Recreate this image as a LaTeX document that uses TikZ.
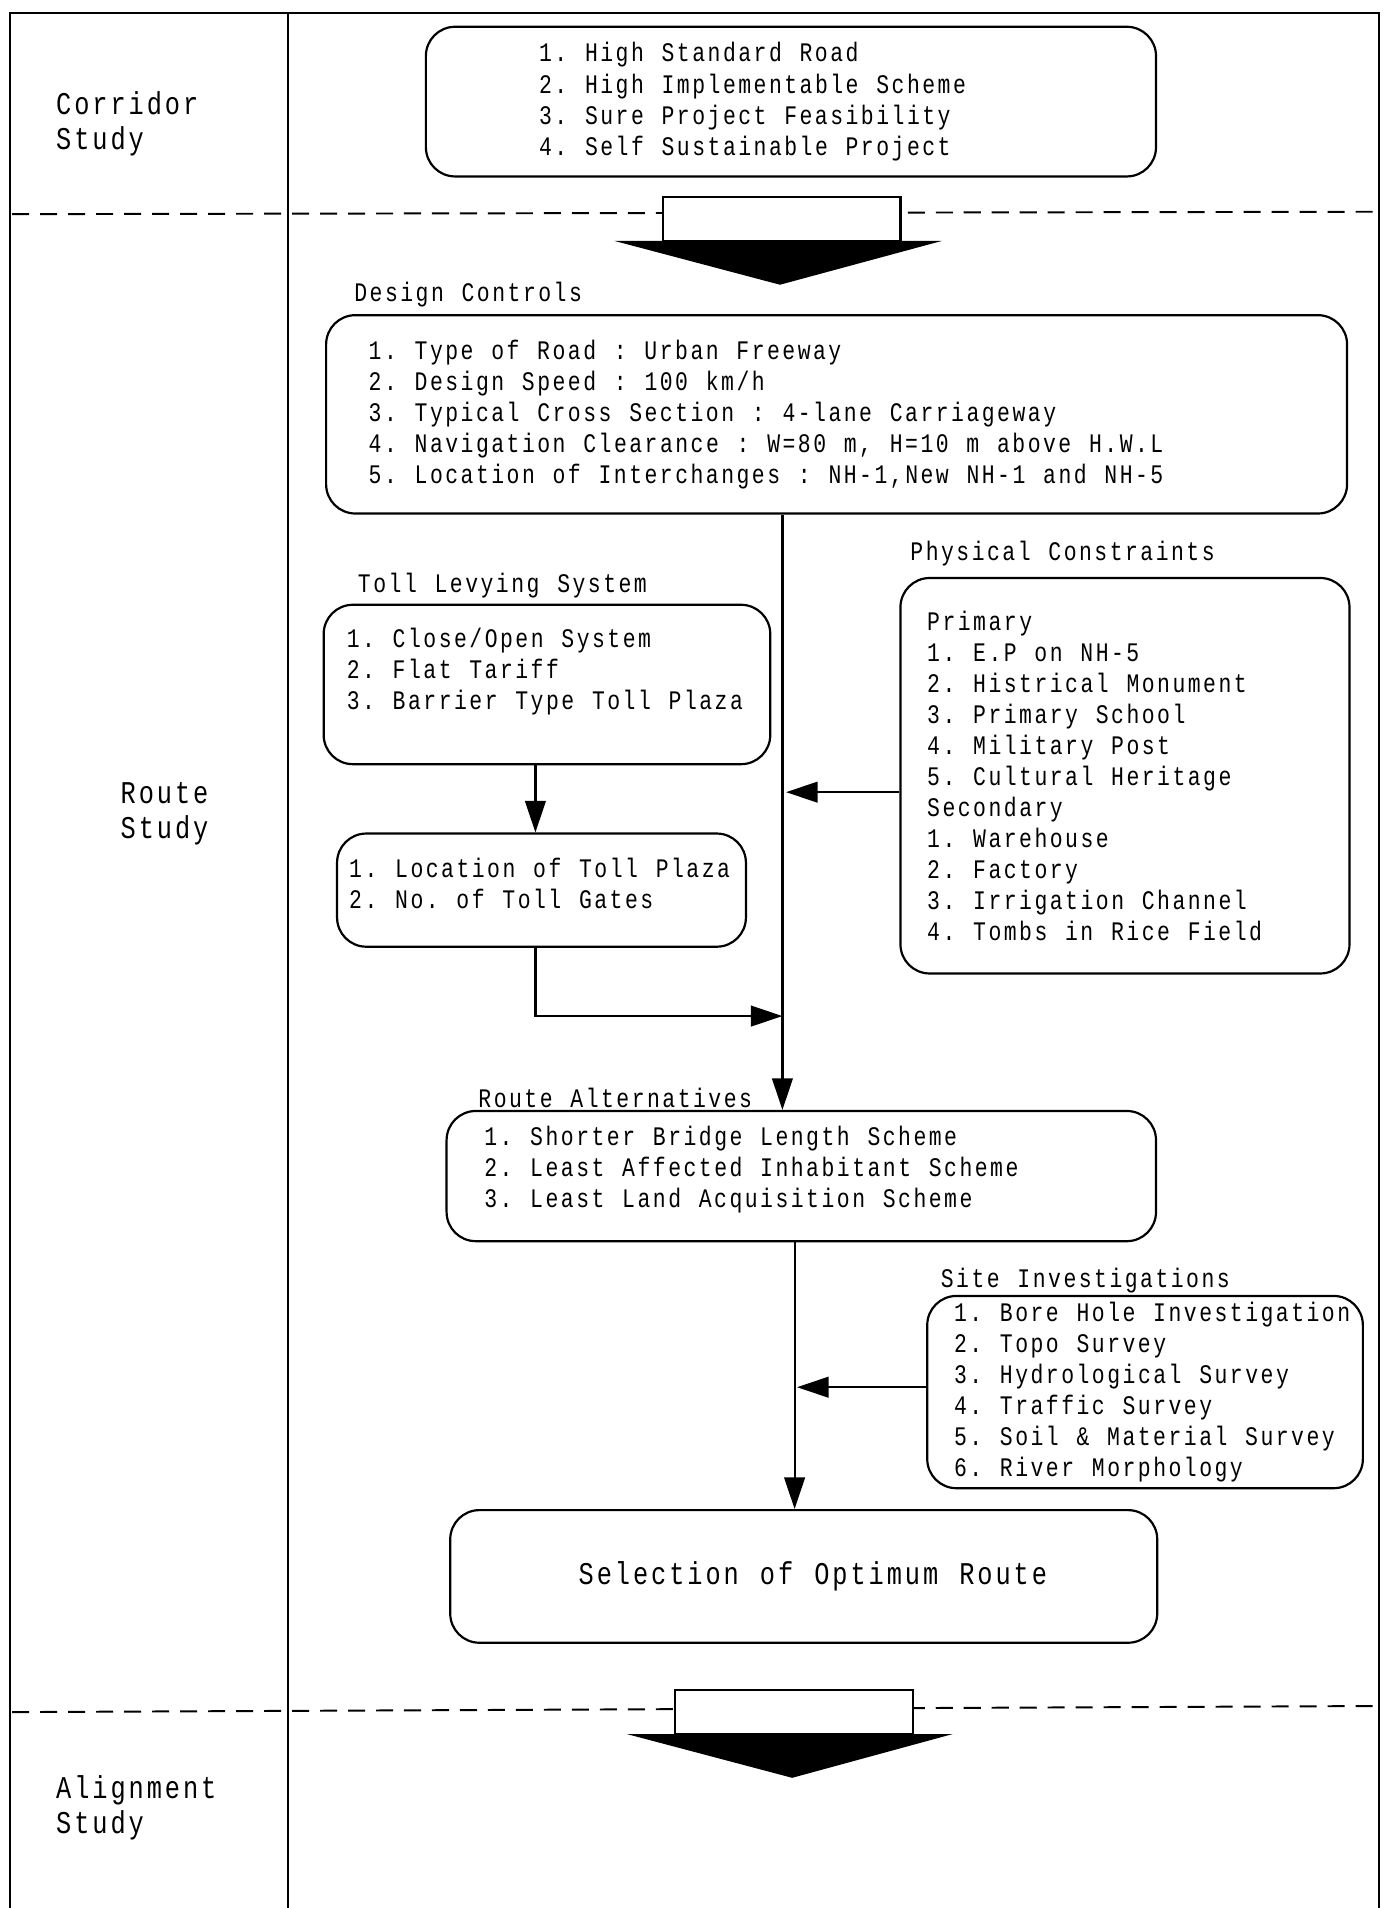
\documentclass[tikz,border=0pt]{standalone}
\usepackage{fontspec}
\setmainfont{Liberation Mono}[FakeStretch=0.8, LetterSpace=9.3]
\usepackage{xcolor}
\usepackage{tikz}
\usetikzlibrary{arrows.meta}
\definecolor{ink}{HTML}{000000}
\definecolor{paper}{HTML}{FFFFFF}
\frenchspacing
\newcommand{\dn}[1]{\rule[-#1]{0pt}{#1}}
\newcommand{\setsize}[3]{\fontsize{#1}{#2}\selectfont
  \fontdimen2\font=#3\fontdimen3\font=0pt\fontdimen4\font=0pt\lineskiplimit=-100pt}
\tikzset{
  frame/.style={draw=ink, line width=1.8pt},
  lane/.style={draw=ink, line width=1.6pt, dash pattern=on 14pt off 9pt},
  rbox/.style={draw=ink, line width=1.8pt, rounded corners=24pt, align=flush left, inner sep=0pt},
  lab/.style={text=ink, anchor=west, inner sep=0pt},
  biglab/.style={lab, align=left, font={\setsize{26}{29}{17.3pt}}},
  flow/.style={draw=ink, line width=1.8pt, -{Triangle[length=26pt,width=17pt]}},
  shaft/.style={draw=ink, line width=1.8pt, fill=paper},
  head/.style={fill=ink, draw=none}
}

\begin{document}
\begin{tikzpicture}[x=1pt, y=-1pt, font={\setsize{22}{25.5}{14.6pt}}]
  \useasboundingbox (0,0) rectangle (1138,1568);
  \fill[paper] (0,0) rectangle (1138,1568);

  % frame and stage lanes
  \draw[frame] (8,1568) -- (8,11) -- (1133,11) -- (1133,1568);
  \draw[frame] (237,11) -- (237,1568);
  \draw[lane] (10,176) -- (1131,174);
  \draw[lane] (10,1407) -- (1131,1402);

  \draw[shaft] (545,162) rectangle (740,198);
  \fill[head] (505,198) -- (774,198) -- (641,234) -- cycle;
  \draw[shaft] (555,1389) rectangle (750,1425);
  \fill[head] (515,1425) -- (783,1425) -- (651,1461) -- cycle;

  \node[biglab] (corrst) at (46,101.5) {Corridor\\Study};
  \node[biglab] (routest) at (99,669) {Route\\Study};
  \node[biglab] (alignst) at (46,1485.5) {Alignment\\Study};

  % boxes
  \node[rbox, minimum width=600pt, minimum height=123pt, text width=414pt] (goals) at (650,83.5)
    {1. High Standard Road\\2. High Implementable Scheme\\3. Sure Project Feasibility\\4. Self Sustainable Project};

  \node[lab] (dclab) at (291,242) {Design Controls};
  \node[rbox, minimum width=839pt, minimum height=163pt, text width=769pt] (dc) at (687.5,340.5)
    {1. Type of Road : Urban Freeway\\2. Design Speed : 100 km/h\\3. Typical Cross Section : 4-lane Carriageway\\4. Navigation Clearance : W=80 m, H=10 m above H.W.L\\5. Location of Interchanges : NH-1,New NH-1 and NH-5};

  \node[lab] (pclab) at (748,455) {Physical Constraints};
  \node[rbox, minimum width=369pt, minimum height=325pt, text width=325pt] (pc) at (924.5,637.5)
    {Primary\\1. E.P on NH-5\\2. Histrical Monument\\3. Primary School\\4. Military Post\\5. Cultural Heritage\\Secondary\\1. Warehouse\\2. Factory\\3. Irrigation Channel\\4. Tombs in Rice Field};

  \node[lab] (tllab) at (294,481) {Toll Levying System};
  \node[rbox, minimum width=367pt, minimum height=131pt, text width=329pt] (tl) at (449.5,562.5)
    {1. Close/Open System\\2. Flat Tariff\\\mbox{3. Barrier Type Toll Plaza}\dn{26pt}};

  \node[rbox, minimum width=336pt, minimum height=93pt, text width=316pt] (lt) at (445,731.5)
    {\mbox{1. Location of Toll Plaza}\\2. No. of Toll Gates\dn{12pt}};

  \node[lab] (ralab) at (393,902) {Route Alternatives};
  \node[rbox, minimum width=583pt, minimum height=107pt, text width=521pt] (ra) at (658.5,966.5)
    {1. Shorter Bridge Length Scheme\\2. Least Affected Inhabitant Scheme\\3. Least Land Acquisition Scheme\dn{15pt}};

  \node[lab] (silab) at (773,1052) {Site Investigations};
  \node[rbox, minimum width=358pt, minimum height=158pt, text width=314pt] (si) at (941,1144)
    {\mbox{1. Bore Hole Investigation}\\2. Topo Survey\\3. Hydrological Survey\\4. Traffic Survey\\5. Soil \& Material Survey\\6. River Morphology};

  \node[rbox, align=center, minimum width=581pt, minimum height=109pt,
        font={\setsize{26}{29}{17.3pt}}] (sel) at (660.5,1295.5) {\hspace*{15pt}Selection of Optimum Route};

  % connectors
  \coordinate (spine) at (643,0);
  \coordinate (spinelow) at (653,0);
  \coordinate (tollx) at (440,0);
  \coordinate (pcin) at (646,651);
  \coordinate (tollin) at (643,835);
  \coordinate (siin) at (655,1140);

  \draw[flow] (dc.south -| spine) -- (ra.north -| spine);
  \draw[flow] (pc.west |- pcin) -- (pcin);
  \draw[flow] (tl.south -| tollx) -- (lt.north -| tollx);
  \draw[flow] (lt.south -| tollx) |- (tollin);
  \draw[flow] (ra.south -| spinelow) -- (sel.north -| spinelow);
  \draw[flow] (si.west |- siin) -- (siin);
\end{tikzpicture}
\end{document}
